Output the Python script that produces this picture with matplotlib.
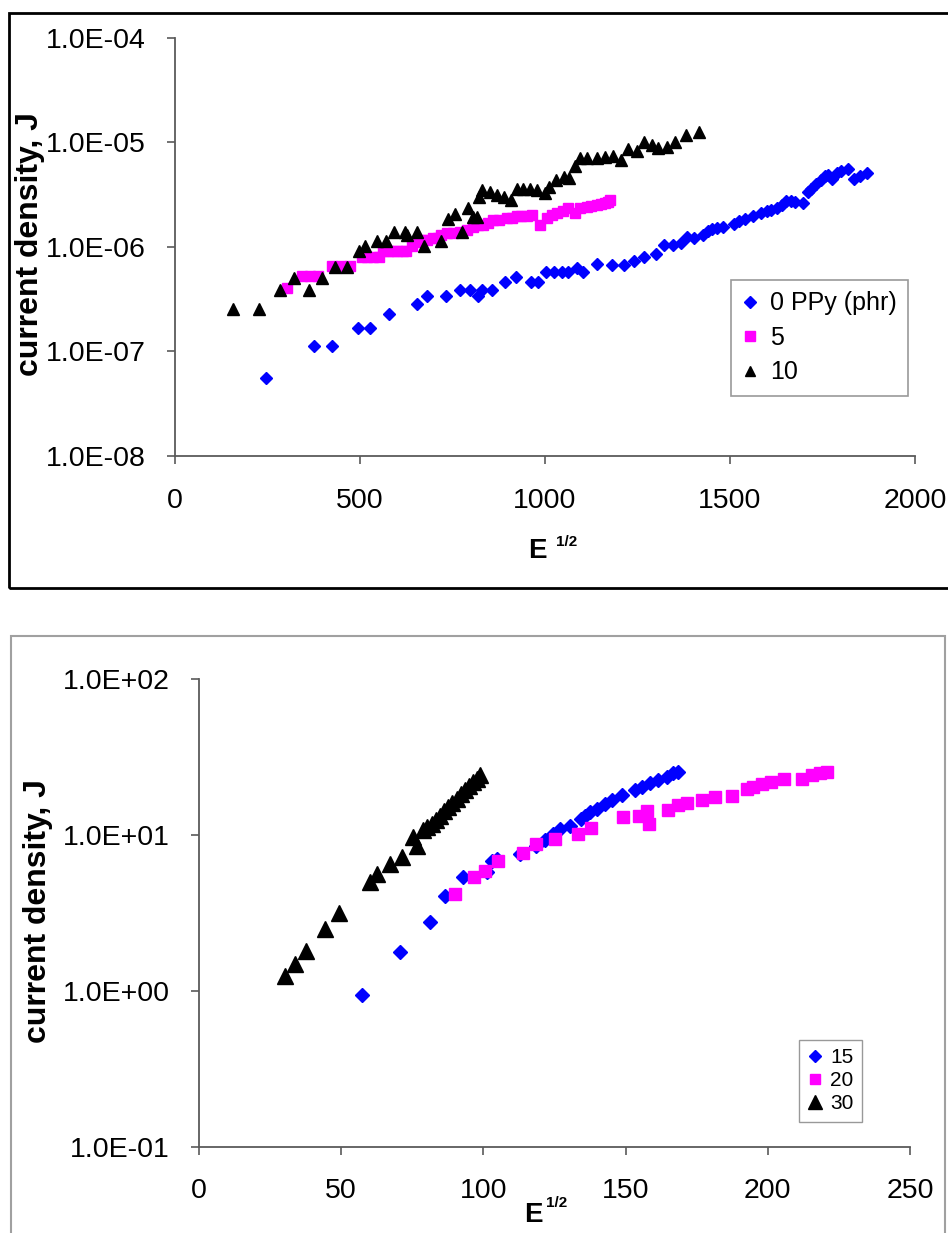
import matplotlib
matplotlib.use("Agg")
import matplotlib.pyplot as plt
from matplotlib.ticker import FixedLocator, FuncFormatter
from matplotlib.lines import Line2D
from matplotlib.patches import Rectangle

plt.rcParams['font.family'] = ['Liberation Sans', 'DejaVu Sans']

# ---------------- top panel data (E^1/2, J) ----------------
ppy0_x = [246, 377, 423, 495, 526, 578, 653, 681, 732, 770, 797, 818, 831, 856, 893, 922,
          961, 981, 1004, 1024, 1047, 1061, 1087, 1104, 1141, 1182, 1214, 1241, 1268, 1300,
          1322, 1347, 1367, 1385, 1403, 1428, 1440, 1452, 1465, 1482, 1510, 1525, 1541, 1563,
          1585, 1599, 1612, 1626, 1640, 1652, 1665, 1676, 1698, 1712, 1720, 1732, 1745, 1757,
          1765, 1775, 1788, 1800, 1818, 1835, 1851, 1869]
ppy0_y = [5.6e-8, 1.13e-7, 1.13e-7, 1.67e-7, 1.67e-7, 2.27e-7, 2.85e-7, 3.36e-7, 3.36e-7,
          3.9e-7, 3.9e-7, 3.36e-7, 3.9e-7, 3.9e-7, 4.57e-7, 5.16e-7, 4.57e-7, 4.57e-7,
          5.77e-7, 5.77e-7, 5.77e-7, 5.77e-7, 6.2e-7, 5.7e-7, 6.8e-7, 6.7e-7, 6.7e-7, 7.3e-7,
          7.9e-7, 8.45e-7, 1.03e-6, 1.03e-6, 1.08e-6, 1.25e-6, 1.2e-6, 1.29e-6, 1.4e-6,
          1.48e-6, 1.5e-6, 1.55e-6, 1.65e-6, 1.75e-6, 1.84e-6, 1.98e-6, 2.08e-6, 2.2e-6,
          2.25e-6, 2.33e-6, 2.5e-6, 2.73e-6, 2.75e-6, 2.7e-6, 2.6e-6, 3.36e-6, 3.6e-6,
          3.97e-6, 4.3e-6, 4.74e-6, 4.9e-6, 4.4e-6, 5.1e-6, 5.3e-6, 5.5e-6, 4.4e-6, 4.74e-6,
          5.1e-6]

ppy5_x = [302, 342, 365, 387, 423, 448, 473, 506, 520, 535, 550, 563, 575, 590, 600, 617,
          625, 640, 655, 667, 680, 698, 710, 720, 734, 750, 770, 790, 806, 820, 833, 845,
          860, 875, 896, 910, 923, 935, 950, 965, 986, 1005, 1018, 1032, 1048, 1063, 1081,
          1095, 1113, 1125, 1140, 1150, 1162, 1170, 1176]
ppy5_y = [4.0e-7, 5.25e-7, 5.25e-7, 5.25e-7, 6.5e-7, 6.5e-7, 6.5e-7, 7.9e-7, 7.9e-7,
          7.9e-7, 7.9e-7, 9.1e-7, 9.1e-7, 9.1e-7, 9.1e-7, 9.1e-7, 9.1e-7, 1.02e-6, 1.1e-6,
          1.16e-6, 1.16e-6, 1.2e-6, 1.2e-6, 1.3e-6, 1.34e-6, 1.34e-6, 1.39e-6, 1.45e-6,
          1.55e-6, 1.6e-6, 1.6e-6, 1.7e-6, 1.8e-6, 1.8e-6, 1.87e-6, 1.9e-6, 1.95e-6, 1.95e-6,
          1.98e-6, 2.0e-6, 1.6e-6, 1.87e-6, 2.0e-6, 2.08e-6, 2.2e-6, 2.33e-6, 2.1e-6, 2.33e-6,
          2.42e-6, 2.45e-6, 2.5e-6, 2.55e-6, 2.6e-6, 2.7e-6, 2.79e-6]

ppy10_x = [158, 228, 284, 322, 363, 396, 432, 464, 498, 514, 545, 570, 593, 622, 628, 653,
           673, 718, 737, 757, 775, 793, 805, 817, 822, 831, 851, 869, 889, 908, 923, 941,
           959, 978, 1000, 1012, 1030, 1050, 1066, 1081, 1095, 1113, 1140, 1162, 1185, 1205,
           1225, 1248, 1268, 1290, 1306, 1329, 1351, 1380, 1416]
ppy10_y = [2.52e-7, 2.52e-7, 3.86e-7, 5.06e-7, 3.86e-7, 5.06e-7, 6.45e-7, 6.45e-7, 9.1e-7,
           1.02e-6, 1.14e-6, 1.14e-6, 1.39e-6, 1.39e-6, 1.3e-6, 1.39e-6, 1.02e-6, 1.14e-6,
           1.83e-6, 2.05e-6, 1.39e-6, 2.33e-6, 1.94e-6, 1.94e-6, 3.0e-6, 3.48e-6, 3.35e-6,
           3.12e-6, 3.0e-6, 2.79e-6, 3.6e-6, 3.6e-6, 3.6e-6, 3.48e-6, 3.3e-6, 3.74e-6, 4.34e-6,
           4.67e-6, 4.5e-6, 5.85e-6, 7.1e-6, 7.1e-6, 7.1e-6, 7.25e-6, 7.3e-6, 6.75e-6, 8.6e-6,
           8.3e-6, 1.01e-5, 9.4e-6, 8.7e-6, 9.0e-6, 1.01e-5, 1.17e-5, 1.24e-5]

top_labels = ['0 PPy (phr)', '5', '10']
top_xticks = [0, 500, 1000, 1500, 2000]
top_yticks = [1e-8, 1e-7, 1e-6, 1e-5, 1e-4]

# ---------------- bottom panel data ----------------
ppy15_x = [57.2, 70.7, 81.2, 86.5, 92.7, 101.1, 102.9, 104.7, 112.9, 118.4, 121.7, 124.6,
           127.0, 130.5, 134.3, 135.7, 137.5, 139.8, 142.8, 145.1, 148.6, 153.3, 155.7,
           158.6, 161.5, 164.4, 166.8, 168.5]
ppy15_y = [0.94, 1.79, 2.75, 4.08, 5.36, 5.77, 6.86, 7.0, 7.5, 8.55, 9.3, 10.2, 11.0, 11.5,
           12.7, 13.3, 14.0, 14.6, 15.9, 16.7, 18.0, 19.3, 20.3, 21.5, 22.6, 23.6, 24.8, 25.4]

ppy20_x = [90.0, 96.7, 100.6, 105.2, 114.0, 118.4, 125.2, 133.4, 137.8, 149.0, 154.7, 157.4,
           158.2, 164.8, 168.5, 171.5, 177.0, 181.4, 187.5, 192.6, 194.9, 197.8, 201.3,
           205.7, 211.9, 215.4, 218.4, 220.9]
ppy20_y = [4.19, 5.4, 5.85, 6.86, 7.64, 8.77, 9.45, 10.2, 11.1, 13.0, 13.3, 14.2, 11.7, 14.5,
           15.5, 16.0, 16.7, 17.5, 17.9, 19.8, 20.3, 21.3, 21.9, 23.0, 23.0, 24.1, 24.8, 25.4]

ppy30_x = [30.2, 33.8, 37.6, 44.3, 49.2, 60.1, 62.7, 67.2, 71.5, 75.4, 76.5, 78.9, 80.3,
           81.8, 83.2, 84.7, 86.2, 87.7, 89.1, 90.6, 92.0, 93.5, 95.0, 96.5, 97.7, 98.8]
ppy30_y = [1.25, 1.5, 1.81, 2.49, 3.16, 4.97, 5.62, 6.5, 7.28, 9.7, 8.5, 10.7, 11.2, 11.8,
           12.5, 13.3, 14.2, 15.1, 16.1, 17.1, 18.2, 19.3, 20.5, 21.9, 23.0, 24.2]

bot_labels = ['15', '20', '30']
bot_xticks = [0, 50, 100, 150, 200, 250]
bot_yticks = [0.1, 1, 10, 100]

W, H = 948, 1233
fig = plt.figure(figsize=(W / 100, H / 100), dpi=100)
fig.patch.set_facecolor('white')

def px(x0, y0, x1, y1):
    return [x0 / W, 1 - y1 / H, (x1 - x0) / W, (y1 - y0) / H]

AX_COL = '#5a5a5a'
BLUE, MAG, BLK = '#0000ff', '#ff00ff', '#000000'

def style(ax, xticks, yticks, xlim, ylim, xpad):
    ax.set_yscale('log')
    ax.set_xlim(*xlim)
    ax.set_ylim(*ylim)
    for s in ('top', 'right'):
        ax.spines[s].set_visible(False)
    for s in ('left', 'bottom'):
        ax.spines[s].set_color(AX_COL)
        ax.spines[s].set_linewidth(1.3)
    ax.xaxis.set_major_locator(FixedLocator(xticks))
    ax.yaxis.set_major_locator(FixedLocator(yticks))
    ax.yaxis.set_minor_locator(FixedLocator([]))
    ax.yaxis.set_major_formatter(FuncFormatter(lambda v, p: f"{v:.1E}"))
    ax.xaxis.set_major_formatter(FuncFormatter(lambda v, p: f"{v:g}"))
    ax.tick_params(axis='both', which='major', direction='out', length=6, width=1.2,
                   color=AX_COL, labelsize=20.5, labelcolor='black')
    ax.tick_params(axis='y', pad=15)
    ax.tick_params(axis='x', pad=xpad)

# ---- top panel ----
fig.patches.append(Rectangle((9 / W, 1 - 588 / H), 960 / W, (588 - 13) / H,
                             transform=fig.transFigure, fill=False, edgecolor='black',
                             linewidth=2, clip_on=False))
ax1 = fig.add_axes(px(175, 37.5, 915, 456))
style(ax1, top_xticks, top_yticks, (0, 2000), (1e-8, 1e-4), 17)
ax1.plot(ppy0_x, ppy0_y, 'D', color=BLUE, ms=6.3, mec=BLUE, ls='none', label=top_labels[0], clip_on=False)
ax1.plot(ppy5_x, ppy5_y, 's', color=MAG, ms=7.2, mec=MAG, ls='none', label=top_labels[1], clip_on=False)
ax1.plot(ppy10_x, ppy10_y, '^', color=BLK, ms=8.5, mec=BLK, ls='none', label=top_labels[2], clip_on=False)

h1 = [Line2D([], [], marker='D', color=BLUE, ls='none', ms=6),
      Line2D([], [], marker='s', color=MAG, ls='none', ms=7),
      Line2D([], [], marker='^', color=BLK, ls='none', ms=7.5)]
leg1 = ax1.legend(h1, top_labels, loc='upper left', bbox_to_anchor=(0.752, 0.42),
                  frameon=True, fancybox=False, edgecolor='#808080', fontsize=18,
                  handlelength=0.6, handletextpad=0.5, labelspacing=0.42, borderpad=0.45,
                  borderaxespad=0)
leg1.get_frame().set_linewidth(1.2)

fig.text(30 / W, 1 - 244 / H, 'current density, J', rotation=90, ha='center', va='center',
         fontsize=23, fontweight='bold')
fig.text(537 / W, 1 - 551 / H, 'E', ha='center', va='center', fontsize=20, fontweight='bold')
fig.text(556 / W, 1 - 542 / H, '1/2', ha='left', va='center', fontsize=11, fontweight='bold')

# ---- bottom panel ----
fig.patches.append(Rectangle((11 / W, -0.05), (945 - 11) / W, (1 - 636 / H) + 0.05,
                             transform=fig.transFigure, fill=False, edgecolor='#a0a0a0',
                             linewidth=1.5, clip_on=False))
ax2 = fig.add_axes(px(199, 679, 910, 1147))
style(ax2, bot_xticks, bot_yticks, (0, 250), (0.1, 100), 16)
ax2.plot(ppy15_x, ppy15_y, 'D', color=BLUE, ms=7.5, mec=BLUE, ls='none', label=bot_labels[0], clip_on=False)
ax2.plot(ppy20_x, ppy20_y, 's', color=MAG, ms=8.5, mec=MAG, ls='none', label=bot_labels[1], clip_on=False)
ax2.plot(ppy30_x, ppy30_y, '^', color=BLK, ms=11, mec=BLK, ls='none', label=bot_labels[2], clip_on=False)

h2 = [Line2D([], [], marker='D', color=BLUE, ls='none', ms=6),
      Line2D([], [], marker='s', color=MAG, ls='none', ms=7),
      Line2D([], [], marker='^', color=BLK, ls='none', ms=10)]
leg2 = ax2.legend(h2, bot_labels, loc='upper left', bbox_to_anchor=(0.844, 0.229),
                  frameon=True, fancybox=False, edgecolor='#808080', fontsize=15,
                  handlelength=0.7, handletextpad=0.4, labelspacing=0.2, borderpad=0.4,
                  borderaxespad=0)
leg2.get_frame().set_linewidth(1.0)

fig.text(38 / W, 1 - 911 / H, 'current density, J', rotation=90, ha='center', va='center',
         fontsize=23, fontweight='bold')
fig.text(533 / W, 1 - 1215 / H, 'E', ha='center', va='center', fontsize=20, fontweight='bold')
fig.text(546 / W, 1 - 1203 / H, '1/2', ha='left', va='center', fontsize=11, fontweight='bold')

fig.savefig('out.png', dpi=100, facecolor='white')
